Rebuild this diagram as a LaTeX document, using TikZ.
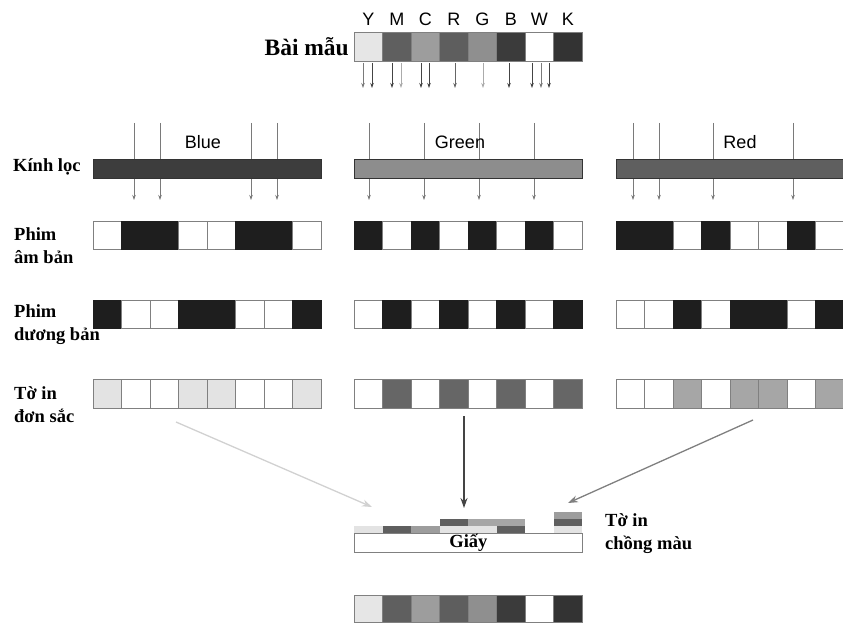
\documentclass[tikz,border=0pt]{standalone}
\usepackage{fontspec}
\setmainfont{Liberation Serif}
\setsansfont{Liberation Sans}
\usetikzlibrary{arrows.meta}
\definecolor{cY}{HTML}{E6E6E6}
\definecolor{cM}{HTML}{5F5F5F}
\definecolor{cC}{HTML}{9D9D9D}
\definecolor{cR}{HTML}{5E5E5E}
\definecolor{cG}{HTML}{8F8F8F}
\definecolor{cB}{HTML}{3B3B3B}
\definecolor{cW}{HTML}{FFFFFF}
\definecolor{cK}{HTML}{333333}
\definecolor{cX}{HTML}{1E1E1E}
\definecolor{pY}{HTML}{E3E3E3}
\definecolor{pM}{HTML}{666666}
\definecolor{pC}{HTML}{A6A6A6}
\definecolor{fBlue}{HTML}{3D3D3D}
\definecolor{fGreen}{HTML}{8D8D8D}
\definecolor{fRed}{HTML}{5F5F5F}
\definecolor{aDark}{HTML}{444444}
\definecolor{aMid}{HTML}{666666}
\definecolor{aGray}{HTML}{7A7A7A}
\definecolor{aLight}{HTML}{ABABAB}
\definecolor{edge}{HTML}{808080}
\newcommand{\mkrow}[5]{%
  \foreach \c [count=\i] in {#5} {
    \node[cellbox, minimum height=#4pt, \c] (#1\i) at ({#2+28.5*(\i-1)},#3) {};
  }}
\begin{document}
\begin{tikzpicture}[x=1pt,y=-1pt,
  cellbox/.style={draw=edge, line width=0.9pt, minimum width=28.5pt, inner sep=0pt, outer sep=0pt, anchor=north west},
  kY/.style={fill=cY}, kM/.style={fill=cM}, kC/.style={fill=cC}, kR/.style={fill=cR},
  kG/.style={fill=cG}, kB/.style={fill=cB}, kW/.style={fill=cW}, kK/.style={fill=cK},
  kX/.style={fill=cX, draw=cX},
  qY/.style={fill=pY}, qM/.style={fill=pM}, qC/.style={fill=pC},
  filterbar/.style={draw=black!80, line width=0.8pt, minimum height=19pt, inner sep=0pt, anchor=north west},
  farrow/.style={draw=aGray, line width=0.7pt, -{Stealth[length=5pt,width=3.5pt]}},
  sarrow/.style={line width=0.8pt, -{Stealth[length=5pt,width=3.5pt]}},
  bigarrow/.style={line width=1.3pt, -{Stealth[length=10pt,width=7pt]}},
  lab/.style={font=\fontsize{18.5}{23}\selectfont\bfseries, align=left, anchor=west, inner sep=0pt},
  sanslab/.style={font=\sffamily\fontsize{18}{22}\selectfont, inner sep=0pt},
  layer/.style={inner sep=0pt, outer sep=0pt, minimum width=28.5pt, minimum height=6.5pt, anchor=south west}
]
\useasboundingbox (0,0) rectangle (843,623);
% ---- sample row
\mkrow{s}{354}{32}{29}{kY,kM,kC,kR,kG,kB,kW,kK}
\foreach \t [count=\i] in {Y,M,C,R,G,B,W,K}
  \node[sanslab] (let\i) at ({354+28.5*(\i-0.5)},19) {\t};
\node[font=\fontsize{23.5}{26}\selectfont\bfseries, anchor=east, inner sep=0pt] (bm) at (349,47) {Bài mẫu};
% ---- arrows below sample
\foreach \x/\col [count=\i] in {363/aGray,372/aDark,392/aDark,401/aLight,421/aDark,429/aDark,455/aMid,483/aLight,509/aDark,532/aDark,541/aGray,549/aDark} {
  \coordinate (sa\i) at (\x,63);
  \coordinate (sb\i) at (\x,88);
  \draw[sarrow, draw=\col] (sa\i) -- (sb\i);
}
% ---- filter arrows
\foreach \x [count=\i] in {134,160,251,277,369,424,479,534,633,659,713,793} {
  \coordinate (ft\i) at (\x,123);
  \coordinate (fb\i) at (\x,200);
  \draw[farrow] (ft\i) -- (fb\i);
}
% ---- filters
\node[filterbar, fill=fBlue, minimum width=228pt] (fblue) at (93,159) {};
\node[filterbar, fill=fGreen, minimum width=228pt] (fgreen) at (354,159) {};
\node[filterbar, fill=fRed, minimum width=232pt] (fred) at (616,159) {};
\node[sanslab] (tblue) at (203,142) {Blue};
\node[sanslab] (tgreen) at (460,142) {Green};
\node[sanslab] (tred) at (740,142) {Red};
% ---- negatives
\mkrow{nb}{93}{221}{28}{kW,kX,kX,kW,kW,kX,kX,kW}
\mkrow{ng}{354}{221}{28}{kX,kW,kX,kW,kX,kW,kX,kW}
\mkrow{nr}{616}{221}{28}{kX,kX,kW,kX,kW,kW,kX,kW}
% ---- positives
\mkrow{pb}{93}{300}{28}{kX,kW,kW,kX,kX,kW,kW,kX}
\mkrow{pg}{354}{300}{28}{kW,kX,kW,kX,kW,kX,kW,kX}
\mkrow{pr}{616}{300}{28}{kW,kW,kX,kW,kX,kX,kW,kX}
% ---- single colour prints
\mkrow{qb}{93}{379}{29}{qY,kW,kW,qY,qY,kW,kW,qY}
\mkrow{qg}{354}{379}{29}{kW,qM,kW,qM,kW,qM,kW,qM}
\mkrow{qr}{616}{379}{29}{kW,kW,qC,kW,qC,qC,kW,qC}
% ---- left labels
\node[lab] (kl) at (13,167) {Kính lọc};
\node[lab] (pab) at (14,246) {Phim\\âm bản};
\node[lab] (pdb) at (14,325) {Phim\\dương bản};
\node[lab] (tds) at (14,405) {Tờ in\\đơn sắc};
% ---- paper and layers
\node[draw=edge, line width=0.9pt, fill=white, minimum width=228pt, minimum height=19pt, inner sep=0pt, anchor=north west] (giay) at (354,533) {};
\node[font=\fontsize{18.5}{20}\selectfont\bfseries, inner sep=0pt] (giaytxt) at (giay.center) {Giấy};
\foreach \c/\k in {pY/1,cM/2,cC/3,pY/4,pY/5,cM/6,pY/8}
  \node[layer, fill=\c] (la\k) at ({354+28.5*(\k-1)},532.5) {};
\foreach \c/\k in {cM/4,pC/5,pC/6,cM/8}
  \node[layer, fill=\c] (lb\k) at ({354+28.5*(\k-1)},525.5) {};
\foreach \c/\k in {cC/8}
  \node[layer, fill=\c] (lc\k) at ({354+28.5*(\k-1)},518.5) {};
\node[lab] (tcm) at (605,534) {Tờ in\\chồng màu};
% ---- result row
\mkrow{r}{354}{595}{27}{kY,kM,kC,kR,kG,kB,kW,kK}
% ---- big arrows
\coordinate (ab1) at (176,422);
\coordinate (ab2) at (372,507);
\coordinate (ag1) at (464,416);
\coordinate (ag2) at (464,508);
\coordinate (ar1) at (753,420);
\coordinate (ar2) at (568,503);
\draw[bigarrow, draw=black!18, fill=black!18] (ab1) -- (ab2);
\draw[bigarrow, draw=aDark, fill=aDark] (ag1) -- (ag2);
\draw[bigarrow, draw=black!50, fill=black!50] (ar1) -- (ar2);
\end{tikzpicture}
\end{document}
